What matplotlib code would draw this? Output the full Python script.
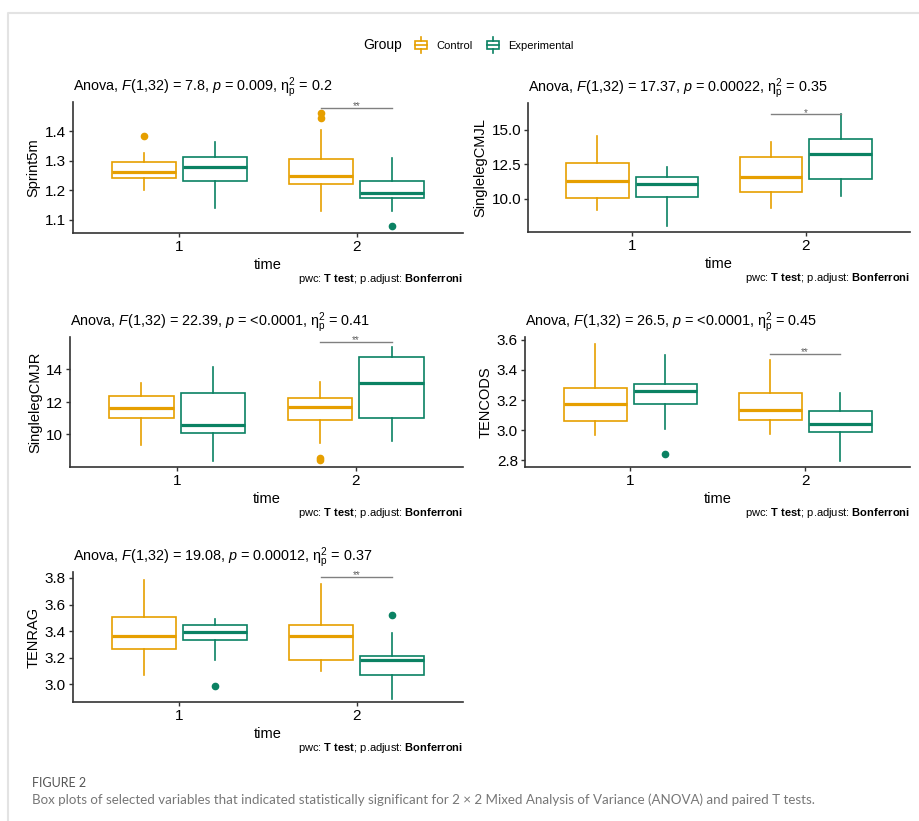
import matplotlib.pyplot as plt
from matplotlib.patches import Rectangle, Patch
from matplotlib.lines import Line2D
from matplotlib.legend_handler import HandlerBase

plt.rcParams['font.family'] = ['Liberation Sans', 'DejaVu Sans']
plt.rcParams['mathtext.fontset'] = 'custom'
plt.rcParams['mathtext.rm'] = 'Liberation Sans'
plt.rcParams['mathtext.it'] = 'Liberation Sans:italic'
plt.rcParams['mathtext.bf'] = 'Liberation Sans:bold'

# colours
ctrl_col = '#E69F00'
exp_col = '#0B8263'

times = [1, 2]
groups = ['Control', 'Experimental']

# box stats per time: [whisker low, Q1, median, Q3, whisker high]
sprint_ctrl = [[1.202, 1.241, 1.263, 1.295, 1.325], [1.129, 1.222, 1.247, 1.305, 1.403]]
sprint_exp = [[1.142, 1.230, 1.280, 1.314, 1.364], [1.129, 1.174, 1.191, 1.230, 1.308]]
sprint_ctrl_out = [[1.383], [1.443, 1.462]]
sprint_exp_out = [[], [1.079]]

cmjl_ctrl = [[9.23, 10.07, 11.30, 12.62, 14.57], [9.35, 10.50, 11.56, 13.05, 14.14]]
cmjl_exp = [[8.08, 10.12, 11.06, 11.56, 12.28], [10.19, 11.44, 13.25, 14.35, 16.13]]
cmjl_ctrl_out = [[], []]
cmjl_exp_out = [[], []]

cmjr_ctrl = [[9.34, 11.02, 11.65, 12.37, 13.14], [9.45, 10.88, 11.69, 12.25, 13.23]]
cmjr_exp = [[8.38, 10.12, 10.57, 12.57, 14.16], [9.59, 11.04, 13.19, 14.78, 15.39]]
cmjr_ctrl_out = [[], [8.42, 8.56]]
cmjr_exp_out = [[], []]

cods_ctrl = [[2.970, 3.059, 3.171, 3.280, 3.573], [2.977, 3.070, 3.131, 3.249, 3.467]]
cods_exp = [[3.010, 3.176, 3.260, 3.308, 3.496], [2.796, 2.988, 3.039, 3.125, 3.247]]
cods_ctrl_out = [[], []]
cods_exp_out = [[2.840], []]

rag_ctrl = [[3.067, 3.267, 3.367, 3.505, 3.786], [3.097, 3.180, 3.367, 3.448, 3.756]]
rag_exp = [[3.180, 3.330, 3.392, 3.443, 3.488], [2.890, 3.070, 3.180, 3.214, 3.385]]
rag_ctrl_out = [[], []]
rag_exp_out = [[2.985], [3.520]]

variables = ['Sprint5m', 'SinglelegCMJL', 'SinglelegCMJR', 'TENCODS', 'TENRAG']
f_values = ['7.8', '17.37', '22.39', '26.5', '19.08']
p_values = ['0.009', '0.00022', '<0.0001', '<0.0001', '0.00012']
eta_values = ['0.2', '0.35', '0.41', '0.45', '0.37']
sig_labels = ['**', '*', '**', '**', '**']
sig_heights = [1.478, 16.11, 15.7, 3.507, 3.81]
y_ticks = [[1.1, 1.2, 1.3, 1.4], [10.0, 12.5, 15.0], [10, 12, 14],
           [2.8, 3.0, 3.2, 3.4, 3.6], [3.0, 3.2, 3.4, 3.6, 3.8]]
y_fmt = ['{:.1f}', '{:.1f}', '{:d}', '{:.1f}', '{:.1f}']
y_lims = [(1.056, 1.498), (7.62, 16.92), (8.0, 16.0), (2.756, 3.618), (2.867, 3.845)]

ctrl_stats = [sprint_ctrl, cmjl_ctrl, cmjr_ctrl, cods_ctrl, rag_ctrl]
exp_stats = [sprint_exp, cmjl_exp, cmjr_exp, cods_exp, rag_exp]
ctrl_out = [sprint_ctrl_out, cmjl_ctrl_out, cmjr_ctrl_out, cods_ctrl_out, rag_ctrl_out]
exp_out = [sprint_exp_out, cmjl_exp_out, cmjr_exp_out, cods_exp_out, rag_exp_out]

W, H = 919, 821
# panel boxes in pixels: left, right, top, bottom
panels = [(73, 463, 102, 233), (528, 910, 103, 232), (70, 463, 337, 467),
          (525, 910, 337, 467), (73, 463, 572, 702)]

fig = plt.figure(figsize=(W / 100, H / 100), dpi=100)


def to_stats(vals, out):
    return [dict(whislo=v[0], q1=v[1], med=v[2], q3=v[3], whishi=v[4], fliers=o)
            for v, o in zip(vals, out)]


for i, var in enumerate(variables):
    l, r, t, b = panels[i]
    ax = fig.add_axes([l / W, 1 - b / H, (r - l) / W, (b - t) / H])
    for stats, outs, col, shift in [(ctrl_stats[i], ctrl_out[i], ctrl_col, -0.2),
                                    (exp_stats[i], exp_out[i], exp_col, 0.2)]:
        ax.bxp(to_stats(stats, outs), positions=[x + shift for x in times], widths=0.36,
               patch_artist=True, showcaps=False,
               boxprops=dict(facecolor='white', edgecolor=col, linewidth=1.2),
               whiskerprops=dict(color=col, linewidth=1.2),
               medianprops=dict(color=col, linewidth=2.3),
               flierprops=dict(marker='o', markerfacecolor=col, markeredgecolor=col,
                               markersize=4.5))
    # significance bracket
    ax.plot([1.8, 2.2], [sig_heights[i]] * 2, color='#808080', lw=1.0)
    ax.annotate(sig_labels[i], (2.0, sig_heights[i]), xytext=(0, -2.5),
                textcoords='offset points', ha='center', va='bottom',
                fontsize=7, color='#606060')
    ax.set_xlim(0.4, 2.6)
    ax.set_ylim(*y_lims[i])
    ax.set_xticks(times)
    ax.set_xticklabels([str(x) for x in times])
    ax.set_yticks(y_ticks[i])
    ax.set_yticklabels([y_fmt[i].format(v) for v in y_ticks[i]])
    ax.tick_params(labelsize=11, length=3, width=1, color='#333333', pad=2)
    for s in ['top', 'right']:
        ax.spines[s].set_visible(False)
    for s in ['left', 'bottom']:
        ax.spines[s].set_linewidth(1.2)
        ax.spines[s].set_color('#333333')
    ax.set_xlabel('time', fontsize=10.5, labelpad=3)
    ax.set_ylabel(var, fontsize=10.5, labelpad=3)
    ax.set_title('Anova, $F$(1,32) = %s, $p$ = %s, $\\mathrm{\\eta}^{2}_{\\mathrm{p}}$ = %s'
                 % (f_values[i], p_values[i], eta_values[i]),
                 loc='left', fontsize=10.4, pad=8)
    ax.text(1.0, -46 / (b - t), 'pwc: $\\bf{T\\ test}$; p.adjust: $\\bf{Bonferroni}$',
            transform=ax.transAxes, ha='right', va='center', fontsize=8)


class BoxKey(HandlerBase):
    def create_artists(self, legend, orig_handle, xdescent, ydescent, width, height,
                       fontsize, trans):
        c = orig_handle.get_edgecolor()
        cx = width / 2 - xdescent
        bw = width * 0.85
        bh = height * 0.7
        y0 = (height - bh) / 2 - ydescent
        box = Rectangle((cx - bw / 2, y0), bw, bh, facecolor='white', edgecolor=c,
                        lw=1.2, transform=trans)
        med = Line2D([cx - bw / 2, cx + bw / 2], [y0 + bh / 2] * 2, color=c, lw=1.2,
                     transform=trans)
        w1 = Line2D([cx, cx], [y0 - 2.5, y0], color=c, lw=1.2, transform=trans)
        w2 = Line2D([cx, cx], [y0 + bh, y0 + bh + 2.5], color=c, lw=1.2, transform=trans)
        return [box, med, w1, w2]


handles = [Patch(edgecolor=ctrl_col, facecolor='white'), Patch(edgecolor=exp_col, facecolor='white')]
fig.text(402 / W, 1 - 45 / H, 'Group', ha='right', va='center', fontsize=10)
fig.legend(handles, groups, handler_map={Patch: BoxKey()}, loc='center left',
           bbox_to_anchor=(404 / W, 1 - 45 / H), ncol=2, frameon=False, fontsize=8,
           handlelength=1.3, handleheight=1.4, columnspacing=1.2, handletextpad=0.7)

# outer frame and caption
fig.add_artist(Line2D([8 / W, 8 / W, 1], [0, 1 - 13 / H, 1 - 13 / H], color='#e3e3e3', lw=1.5))
fig.text(32 / W, 1 - 783 / H, 'FIGURE 2', fontsize=9, color='#555555', va='center',
         family=['Lato', 'DejaVu Sans'])
fig.text(32 / W, 1 - 800 / H,
         'Box plots of selected variables that indicated statistically significant for 2 \u00d7 2 '
         'Mixed Analysis of Variance (ANOVA) and paired T tests.',
         fontsize=9.6, color='#777777', va='center', family=['Lato', 'DejaVu Sans'])

fig.savefig('out.png', dpi=100)
